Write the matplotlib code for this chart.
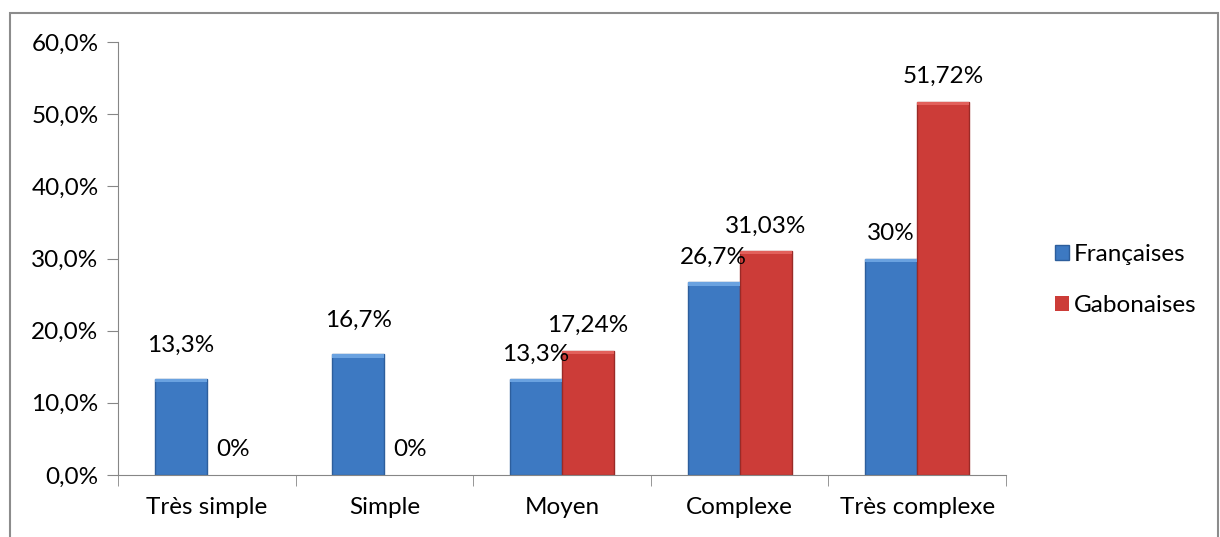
import numpy as np
import matplotlib
matplotlib.use("Agg")
import matplotlib.pyplot as plt
from matplotlib.patches import Rectangle
from matplotlib.ticker import FixedLocator, FuncFormatter

# -------------------------------------------------
# DATA
# -------------------------------------------------
categories = ["Très simple", "Simple", "Moyen", "Complexe", "Très complexe"]
francaises = [13.3, 16.7, 13.3, 26.7, 30.0]
gabonaises = [0.0, 0.0, 17.24, 31.03, 51.72]
labels_fr = ["13,3%", "16,7%", "13,3%", "26,7%", "30%"]
labels_ga = ["0%", "0%", "17,24%", "31,03%", "51,72%"]

plt.rcParams["font.family"] = ["Lato", "DejaVu Sans"]

fig = plt.figure(figsize=(12.2, 5.37), dpi=100)
ax = fig.add_axes([118 / 1220, 62 / 537, 888 / 1220, 433 / 537])

# outer frame around the chart
fig.patches.append(Rectangle((10 / 1220, -0.02), 1208 / 1220, (537 - 13) / 537 + 0.02,
                             transform=fig.transFigure, fill=False,
                             edgecolor="#8c8c8c", linewidth=1.5))

x = np.arange(len(categories))
w = 0.293

b1 = ax.bar(x - w / 2, francaises, w, color="#3d79c2", edgecolor="#2d5e9c",
            linewidth=1, label="Françaises")
b2 = ax.bar(x + w / 2, gabonaises, w, color="#cc3c38", edgecolor="#9a2a27",
            linewidth=1, label="Gabonaises")

# lighter bevel on top of bars, hide empty bars
for bars, c in [(b1, "#6aa2e0"), (b2, "#e2605b")]:
    for r in bars:
        h = r.get_height()
        if h > 0:
            ax.add_patch(Rectangle((r.get_x(), h - 0.45), r.get_width(), 0.45,
                                   color=c, linewidth=0, zorder=3))
        else:
            r.set_linewidth(0)

fs = 17.5
for i in range(len(categories)):
    extra = 9 if gabonaises[i] == 0 else 0
    ax.annotate(labels_fr[i], (x[i] - w / 2, francaises[i]), xytext=(0, 25 + extra),
                textcoords="offset pixels", ha="center", va="center", fontsize=fs)
    ax.annotate(labels_ga[i], (x[i] + w / 2, gabonaises[i]), xytext=(0, 25),
                textcoords="offset pixels", ha="center", va="center", fontsize=fs)

ax.set_xlim(-0.5, 4.5)
ax.set_ylim(0, 60)
ax.set_yticks(np.arange(0, 61, 10))
ax.yaxis.set_major_formatter(FuncFormatter(lambda v, p: f"{v:.1f}%".replace(".", ",")))
ax.set_xticks(x)
ax.set_xticklabels(categories)
ax.xaxis.set_minor_locator(FixedLocator(np.arange(-0.5, 5, 1)))
ax.tick_params(axis="x", which="major", length=0, pad=16, labelsize=fs)
ax.tick_params(axis="x", which="minor", length=8, color="#868686", direction="out")
ax.tick_params(axis="y", length=8, color="#868686", pad=6, labelsize=fs)

for s in ["top", "right"]:
    ax.spines[s].set_visible(False)
for s in ["left", "bottom"]:
    ax.spines[s].set_color("#868686")

ax.legend(loc="center left", bbox_to_anchor=(1.03, 0.45), frameon=False, fontsize=fs,
          handlelength=0.6, handleheight=0.6, handletextpad=0.2, labelspacing=1.25)

fig.savefig("out.png", dpi=100)
